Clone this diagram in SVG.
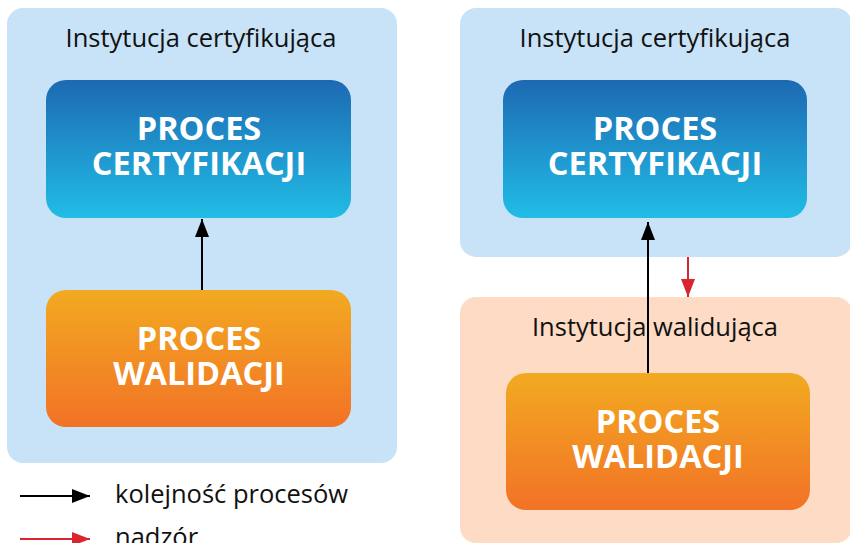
<svg xmlns="http://www.w3.org/2000/svg" width="850" height="543" viewBox="0 0 850 543">
<defs>
<linearGradient id="gb" x1="0" y1="0" x2="0" y2="1"><stop offset="0" stop-color="#1D69B2"/><stop offset="1" stop-color="#21BDE6"/></linearGradient>
<linearGradient id="go" x1="0" y1="0" x2="0" y2="1"><stop offset="0" stop-color="#F2AA21"/><stop offset="1" stop-color="#F27226"/></linearGradient>
<marker id="akL" markerWidth="18" markerHeight="14" refX="18" refY="7" orient="auto" markerUnits="userSpaceOnUse" viewBox="0 0 18 14"><path d="M0,0 L18,7 L0,14 z" fill="#000"/></marker>
<marker id="arL" markerWidth="18" markerHeight="14" refX="18" refY="7" orient="auto" markerUnits="userSpaceOnUse" viewBox="0 0 18 14"><path d="M0,0 L18,7 L0,14 z" fill="#D9262E"/></marker>
</defs>
<style>
.cb{fill:#C8E3F7}
.co{fill:#FDDBC4}
.lbl{font-family:"Open Sans","Noto Sans",sans-serif;font-size:25.5px;fill:#111;text-anchor:middle}
.nt{font-family:"Open Sans","Noto Sans",sans-serif;font-size:32.5px;font-weight:bold;fill:#fff;text-anchor:middle}
.leg{font-family:"Open Sans","Noto Sans",sans-serif;font-size:25.5px;fill:#111}
</style>
<g id="container-left">
<rect class="cb" x="7" y="8" width="390" height="455" rx="16"/>
<text class="lbl" x="201" y="47">Instytucja certyfikująca</text>
</g>
<g id="container-right-cert">
<rect class="cb" x="460" y="8" width="392" height="249" rx="16"/>
<text class="lbl" x="655" y="47">Instytucja certyfikująca</text>
</g>
<g id="container-right-val">
<rect class="co" x="460" y="297" width="392" height="246" rx="16"/>
<text class="lbl" x="655" y="336">Instytucja walidująca</text>
</g>
<g id="node-cert-left">
<rect x="46" y="80" width="305" height="138" rx="20" fill="url(#gb)"/>
<text class="nt" x="199" y="140">PROCES</text>
<text class="nt" x="199" y="175">CERTYFIKACJI</text>
</g>
<g id="node-val-left">
<rect x="46" y="290" width="305" height="137" rx="20" fill="url(#go)"/>
<text class="nt" x="199" y="350">PROCES</text>
<text class="nt" x="199" y="385">WALIDACJI</text>
</g>
<g id="node-cert-right">
<rect x="503" y="80" width="304" height="138" rx="20" fill="url(#gb)"/>
<text class="nt" x="655" y="140">PROCES</text>
<text class="nt" x="655" y="175">CERTYFIKACJI</text>
</g>
<g id="node-val-right">
<rect x="506" y="373" width="304" height="137" rx="20" fill="url(#go)"/>
<text class="nt" x="658" y="433">PROCES</text>
<text class="nt" x="658" y="468">WALIDACJI</text>
</g>
<g id="connectors">
<line x1="202" y1="290" x2="202" y2="219" stroke="#000" stroke-width="2" marker-end="url(#akL)"/>
<line x1="648" y1="373" x2="648" y2="222" stroke="#000" stroke-width="2" marker-end="url(#akL)"/>
<line x1="688" y1="257" x2="688" y2="297" stroke="#D9262E" stroke-width="2" marker-end="url(#arL)"/>
</g>
<g id="legend">
<line x1="20" y1="496" x2="90" y2="496" stroke="#000" stroke-width="2" marker-end="url(#akL)"/>
<text class="leg" x="115" y="503">kolejność procesów</text>
<line x1="20" y1="539" x2="90" y2="539" stroke="#D9262E" stroke-width="2" marker-end="url(#arL)"/>
<text class="leg" x="115" y="546">nadzór</text>
</g>
</svg>
